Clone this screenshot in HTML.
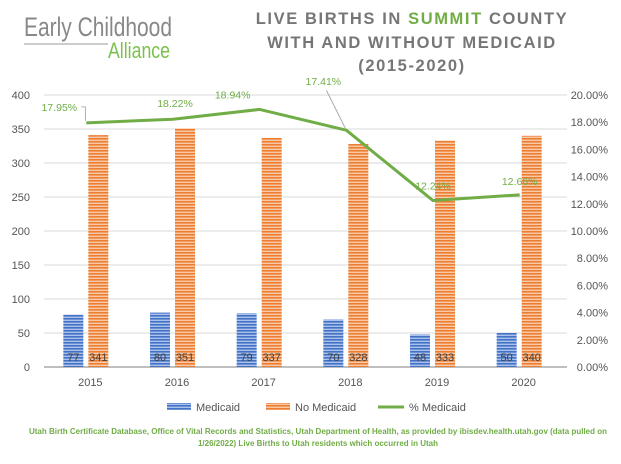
<!DOCTYPE html>
<html><head><meta charset="utf-8"><style>
html,body{margin:0;padding:0;background:#fff;}
body{width:621px;height:459px;overflow:hidden;font-family:"Liberation Sans",sans-serif;}
</style></head><body>
<svg width="621" height="459" xmlns="http://www.w3.org/2000/svg">
<defs>
<pattern id="pb" width="4" height="3" patternUnits="userSpaceOnUse"><rect width="4" height="3" fill="#a9c1ec"/><rect width="4" height="1.6" fill="#4472c4"/></pattern>
<pattern id="po" width="4" height="3" patternUnits="userSpaceOnUse"><rect width="4" height="3" fill="#f7c9a6"/><rect width="4" height="1.6" fill="#ed7d31"/></pattern>
</defs>
<g>
<text x="24" y="36" font-size="27" fill="#888" font-weight="300" textLength="148" lengthAdjust="spacingAndGlyphs">Early Childhood</text>
<line x1="24" y1="44" x2="108" y2="44" stroke="#999" stroke-width="1"/>
<text x="108" y="58" font-size="22" fill="#7cc14e" textLength="62" lengthAdjust="spacingAndGlyphs">Alliance</text>
</g>
<g font-weight="bold" font-size="16.5" fill="#767676" text-anchor="middle" letter-spacing="1.6">
<text x="412" y="24">LIVE BIRTHS IN <tspan fill="#70ad47">SUMMIT</tspan> COUNTY</text>
<text x="412" y="48">WITH AND WITHOUT MEDICAID</text>
<text x="412" y="71">(2015-2020)</text>
</g>
<g id="grid"></g>
<g id="bars"></g>
<g id="line"></g>
<g id="labels"></g>
<g font-size="11" fill="#555">
<rect x="167" y="403" width="24" height="7" fill="url(#pb)"/>
<text x="196" y="411">Medicaid</text>
<rect x="266" y="403" width="24" height="7" fill="url(#po)"/>
<text x="295" y="411">No Medicaid</text>
<line x1="378" y1="407" x2="404" y2="407" stroke="#70ad47" stroke-width="3"/>
<text x="409" y="411">% Medicaid</text>
</g>
<g font-size="8" font-weight="bold" fill="#70ad47" text-anchor="middle">
<text x="318" y="434">Utah Birth Certificate Database, Office of Vital Records and Statistics, Utah Department of Health, as provided by ibisdev.health.utah.gov (data pulled on</text>
<text x="318" y="446">1/26/2022) Live Births to Utah residents which occurred in Utah</text>
</g>
</svg>
<script>
const years=["2015","2016","2017","2018","2019","2020"];
const medicaid=[77,80,79,70,48,50];
const noMedicaid=[341,351,337,328,333,340];
const pctMedicaid=[17.95,18.22,18.94,17.41,12.24,12.66];
const leftTicks=[0,50,100,150,200,250,300,350,400];
const rightTicks=[0,2,4,6,8,10,12,14,16,18,20];
const NS="http://www.w3.org/2000/svg";
const x0=47,x1=567,yTop=95,yBot=367;
const bw=(x1-x0)/years.length;
const cx=i=>x0+bw*(i+0.5);
const yL=v=>yBot-(v/400)*(yBot-yTop);
const yR=v=>yBot-(v/20)*(yBot-yTop);
function mk(tag,attrs,parent,text){const e=document.createElementNS(NS,tag);for(const k in attrs)e.setAttribute(k,attrs[k]);if(text!==undefined)e.textContent=text;parent.appendChild(e);return e;}
const grid=document.getElementById('grid'),bars=document.getElementById('bars'),line=document.getElementById('line'),labels=document.getElementById('labels');
leftTicks.forEach(t=>{
  const y=yL(t);
  const g=mk('line',{x1:x0-3,x2:x1,y1:y,y2:y,stroke:t===0?'#bfbfbf':'#d9d9d9','stroke-width':t===0?2:1},grid);
  
  
  const l=mk('text',{x:30,y:y+4,'font-size':11,fill:'#555','text-anchor':'end'},grid,t);
  
  
});
rightTicks.forEach(t=>{
  const r=mk('text',{x:608,y:yR(t)+4,'font-size':11,fill:'#555','text-anchor':'end'},grid,t.toFixed(2)+'%');
  
  
});
years.forEach((yr,i)=>{
  const c=cx(i)-3;
  const b1=mk('rect',{x:c-24,y:yL(medicaid[i]),width:20,height:yBot-yL(medicaid[i]),fill:'url(#pb)'},bars);
  
  
  const b2=mk('rect',{x:c+1,y:yL(noMedicaid[i]),width:20,height:yBot-yL(noMedicaid[i]),fill:'url(#po)'},bars);
  
  
  const t1=mk('text',{x:c-14,y:361,'font-size':11,fill:'#404040','text-anchor':'middle'},labels,medicaid[i]);
  
  
  const t2=mk('text',{x:c+11,y:361,'font-size':11,fill:'#404040','text-anchor':'middle'},labels,noMedicaid[i]);
  
  
  const xl=mk('text',{x:cx(i),y:386,'font-size':11,fill:'#555','text-anchor':'middle'},labels,yr);
  
  
});
const pts=pctMedicaid.map((v,i)=>[cx(i)-4,yR(v)]);
const pl=mk('polyline',{points:pts.map(p=>p.join(',')).join(' '),fill:'none',stroke:'#70ad47','stroke-width':3,'stroke-linejoin':'round'},line);


const offs=[[-27,-12],[2,-12],[-27,-11],[-23,-45],[0,-11],[0,-10]];
pctMedicaid.forEach((v,i)=>{
  const [px,py]=pts[i];
  const lx=px+offs[i][0],ly=py+offs[i][1];
  if(i===0){mk('polyline',{points:`${lx+22},${ly-4} ${px-1},${ly-4} ${px-1},${py-2}`,fill:'none',stroke:'#999','stroke-width':0.8},labels);}
  if(i===3){mk('line',{x1:lx+3,y1:ly+5,x2:px-1,y2:py-2,stroke:'#999','stroke-width':0.8},labels);}
  const t=mk('text',{x:lx,y:ly,'font-size':10.5,fill:'#70ad47','text-anchor':'middle'},labels,v.toFixed(2)+'%');
  
  
});
</script>
</body></html>
